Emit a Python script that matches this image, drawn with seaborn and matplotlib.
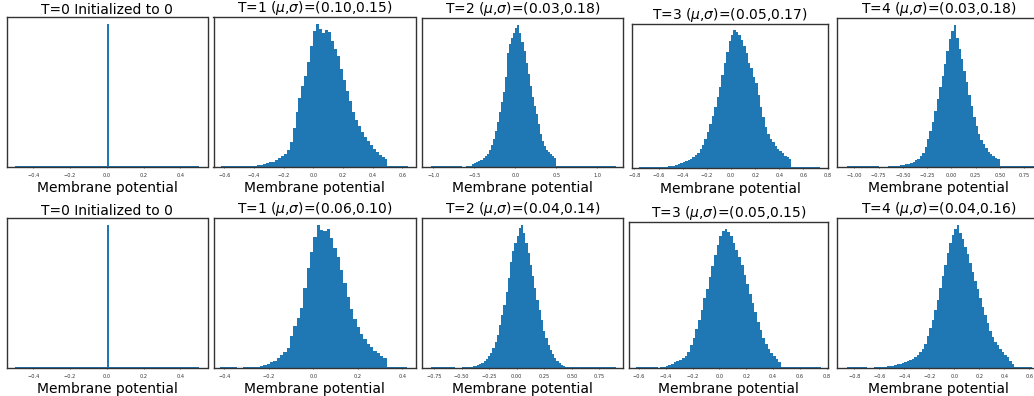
import numpy as np
import pandas as pd
import matplotlib
matplotlib.use("Agg")
import matplotlib.pyplot as plt
import seaborn as sns

# ---------------- data ----------------
timesteps = [0, 1, 2, 3, 4]
top_mu = [0.10, 0.03, 0.05, 0.03]
top_sigma = [0.15, 0.18, 0.17, 0.18]
bottom_mu = [0.06, 0.04, 0.05, 0.04]
bottom_sigma = [0.10, 0.14, 0.15, 0.16]

# T=0: every neuron initialised to 0 (100 bins over [-0.5, 0.5])
t0_start, t0_width = 0.0, 0.01
t0_counts = [430]
t0_range = (-0.5, 0.5)

# top row histograms: (first bin edge, bin width, counts, data range)
top_t1_start, top_t1_width = -0.46, 0.02
top_t1_counts = [2, 3, 3, 4, 5, 6, 9, 11, 14, 16, 20, 26, 32, 40, 52, 75, 115, 165,
                 205, 240, 270, 312, 360, 405, 425, 412, 398, 408, 402, 375, 352, 330,
                 292, 258, 225, 195, 165, 140, 122, 105, 90, 78, 64, 53, 44, 36, 30, 25]
top_t1_range = (-0.61, 0.63)

top_t2_start, top_t2_width = -0.65, 0.025
top_t2_counts = [1, 1, 2, 2, 4, 8, 12, 15, 18, 22, 26, 32, 40, 50, 65, 85, 110, 135,
                 165, 195, 225, 270, 345, 370, 390, 405, 420, 428, 405, 378, 350, 315,
                 280, 245, 212, 185, 160, 130, 100, 78, 62, 52, 44, 38, 34, 27]
top_t2_range = (-1.02, 1.21)

top_t3_start, top_t3_width = -0.60, 0.02
top_t3_counts = [1, 1, 2, 2, 3, 3, 4, 6, 9, 12, 15, 18, 21, 25, 30, 36, 44, 55, 68,
                 85, 105, 128, 152, 180, 210, 240, 275, 310, 345, 375, 395, 408, 402,
                 395, 378, 362, 340, 312, 295, 270, 250, 215, 180, 150, 120, 100, 85,
                 75, 63, 55, 48, 42, 35, 31, 26]
top_t3_range = (-0.746, 0.726)

top_t4_start, top_t4_width = -0.75, 0.025
top_t4_counts = [1, 1, 1, 1, 2, 2, 3, 3, 4, 5, 6, 8, 10, 13, 16, 20, 25, 32, 42, 60,
                 85, 110, 135, 170, 205, 240, 275, 310, 350, 385, 410, 428, 390, 355,
                 325, 290, 255, 218, 185, 152, 125, 100, 82, 68, 58, 46, 38, 32, 28, 23]
top_t4_range = (-1.07, 0.95)

# bottom row histograms
bot_t1_start, bot_t1_width = -0.345, 0.015
bot_t1_counts = [1, 1, 2, 2, 3, 3, 4, 5, 8, 12, 17, 22, 30, 39, 48, 60, 95, 125, 150,
                 180, 240, 300, 350, 395, 430, 415, 412, 418, 390, 362, 335, 295, 255,
                 215, 178, 148, 122, 102, 86, 72, 62, 52, 44, 37, 31]
bot_t1_range = (-0.41, 0.42)

bot_t2_start, bot_t2_width = -0.56, 0.02
bot_t2_counts = [1, 1, 1, 2, 2, 3, 3, 4, 5, 7, 9, 12, 16, 21, 27, 35, 45, 60, 78, 100,
                 128, 158, 190, 228, 270, 318, 350, 375, 395, 420, 429, 405, 375, 345,
                 310, 275, 240, 205, 175, 145, 112, 90, 68, 55, 42, 30, 22, 14, 9, 5, 2]
bot_t2_range = (-0.78, 0.89)

bot_t3_start, bot_t3_width = -0.46, 0.02
bot_t3_counts = [1, 2, 4, 6, 9, 13, 17, 21, 25, 30, 36, 48, 70, 92, 118, 145, 175, 210,
                 240, 275, 308, 340, 372, 400, 415, 420, 412, 400, 378, 355, 335, 310,
                 282, 255, 225, 195, 168, 140, 115, 92, 72, 58, 45, 36, 26, 18]
bot_t3_range = (-0.61, 0.745)

bot_t4_start, bot_t4_width = -0.70, 0.02
bot_t4_counts = [1, 1, 1, 2, 2, 3, 3, 4, 5, 6, 7, 9, 11, 13, 15, 17, 20, 23, 27, 33,
                 40, 48, 58, 72, 95, 120, 145, 175, 205, 240, 278, 310, 345, 375, 400,
                 418, 430, 405, 388, 365, 342, 315, 288, 262, 238, 212, 185, 160, 135,
                 112, 92, 78, 68, 58, 48, 40, 32, 22, 12]
bot_t4_range = (-0.85, 0.62)

top_ticks = [[-0.4, -0.2, 0.0, 0.2, 0.4],
             [-0.6, -0.4, -0.2, 0.0, 0.2, 0.4, 0.6],
             [-1.0, -0.5, 0.0, 0.5, 1.0],
             [-0.8, -0.6, -0.4, -0.2, 0.0, 0.2, 0.4, 0.6, 0.8],
             [-1.0, -0.75, -0.5, -0.25, 0.0, 0.25, 0.5, 0.75]]
bot_ticks = [[-0.4, -0.2, 0.0, 0.2, 0.4],
             [-0.4, -0.2, 0.0, 0.2, 0.4],
             [-0.75, -0.5, -0.25, 0.0, 0.25, 0.5, 0.75],
             [-0.6, -0.4, -0.2, 0.0, 0.2, 0.4, 0.6, 0.8],
             [-0.8, -0.6, -0.4, -0.2, 0.0, 0.2, 0.4, 0.6]]

# ---------------- layout (pixels) ----------------
W, H = 1034, 396
top_boxes = [(7, 207.5, 17, 167), (213.5, 415.5, 17, 167), (422, 623, 18, 167),
             (632, 828, 23.5, 167.5), (837, 1040, 18, 167)]
bot_boxes = [(7, 207.5, 218, 368), (213.5, 415.5, 218, 368), (422, 623, 218, 368),
             (629, 828, 222, 368), (837, 1040, 218, 368)]
top_xlims = [(-0.543, 0.548), (-0.673, 0.689), (-1.138, 1.313), (-0.82, 0.803), (-1.179, 0.915)]
bot_xlims = [(-0.543, 0.548), (-0.4486, 0.4593), (-0.859, 0.965), (-0.674, 0.81), (-0.938, 0.686)]

BLUE = "#1f77b4"
SPINE = "#333333"

fig = plt.figure(figsize=(W / 100, H / 100), dpi=100)


def add_ax(box):
    l, r, t, b = box
    return fig.add_axes([l / W, 1 - b / H, (r - l) / W, (b - t) / H])


def draw(ax, start, width, counts, rng):
    counts = np.asarray(counts, float)
    lo, hi = rng
    tail = counts.max() * 0.004
    n_left = max(int(np.ceil((start - lo) / width - 1e-9)), 0)
    end = start + width * len(counts)
    n_right = max(int(np.ceil((hi - end) / width - 1e-9)), 0)
    full = np.concatenate([np.full(n_left, tail), counts, np.full(n_right, tail)])
    first = start - n_left * width
    edges = first + width * np.arange(len(full) + 1)
    centers = (edges[:-1] + edges[1:]) / 2
    df = pd.DataFrame({"potential": centers, "count": full})
    sns.histplot(data=df, x="potential", weights="count", bins=list(edges), ax=ax,
                 color=BLUE, alpha=1.0, linewidth=0, element="bars", fill=True)


def style(ax, title, ticks, xlim):
    ax.set_xlim(*xlim)
    ax.set_xticks(ticks)
    ax.set_yticks([])
    ax.set_ylabel("")
    ax.set_xlabel("Membrane potential", fontsize=10, labelpad=2.5)
    ax.set_title(title, fontsize=10, pad=2)
    ax.tick_params(axis="x", labelsize=3.6, length=1, width=0.5, pad=3,
                   colors="#333333")
    for s in ax.spines.values():
        s.set_color(SPINE)
        s.set_linewidth(1.0)


top_data = [(t0_start, t0_width, t0_counts, t0_range),
            (top_t1_start, top_t1_width, top_t1_counts, top_t1_range),
            (top_t2_start, top_t2_width, top_t2_counts, top_t2_range),
            (top_t3_start, top_t3_width, top_t3_counts, top_t3_range),
            (top_t4_start, top_t4_width, top_t4_counts, top_t4_range)]
bot_data = [(t0_start, t0_width, t0_counts, t0_range),
            (bot_t1_start, bot_t1_width, bot_t1_counts, bot_t1_range),
            (bot_t2_start, bot_t2_width, bot_t2_counts, bot_t2_range),
            (bot_t3_start, bot_t3_width, bot_t3_counts, bot_t3_range),
            (bot_t4_start, bot_t4_width, bot_t4_counts, bot_t4_range)]

for row_data, boxes, xlims, ticks, mus, sigmas in [
        (top_data, top_boxes, top_xlims, top_ticks, top_mu, top_sigma),
        (bot_data, bot_boxes, bot_xlims, bot_ticks, bottom_mu, bottom_sigma)]:
    for i, t in enumerate(timesteps):
        ax = add_ax(boxes[i])
        draw(ax, *row_data[i])
        if t == 0:
            title = "T=0 Initialized to 0"
        else:
            title = r"T=%d ($\mu$,$\sigma$)=(%.2f,%.2f)" % (t, mus[i - 1], sigmas[i - 1])
        style(ax, title, ticks[i], xlims[i])

fig.savefig("out.png", dpi=100)
